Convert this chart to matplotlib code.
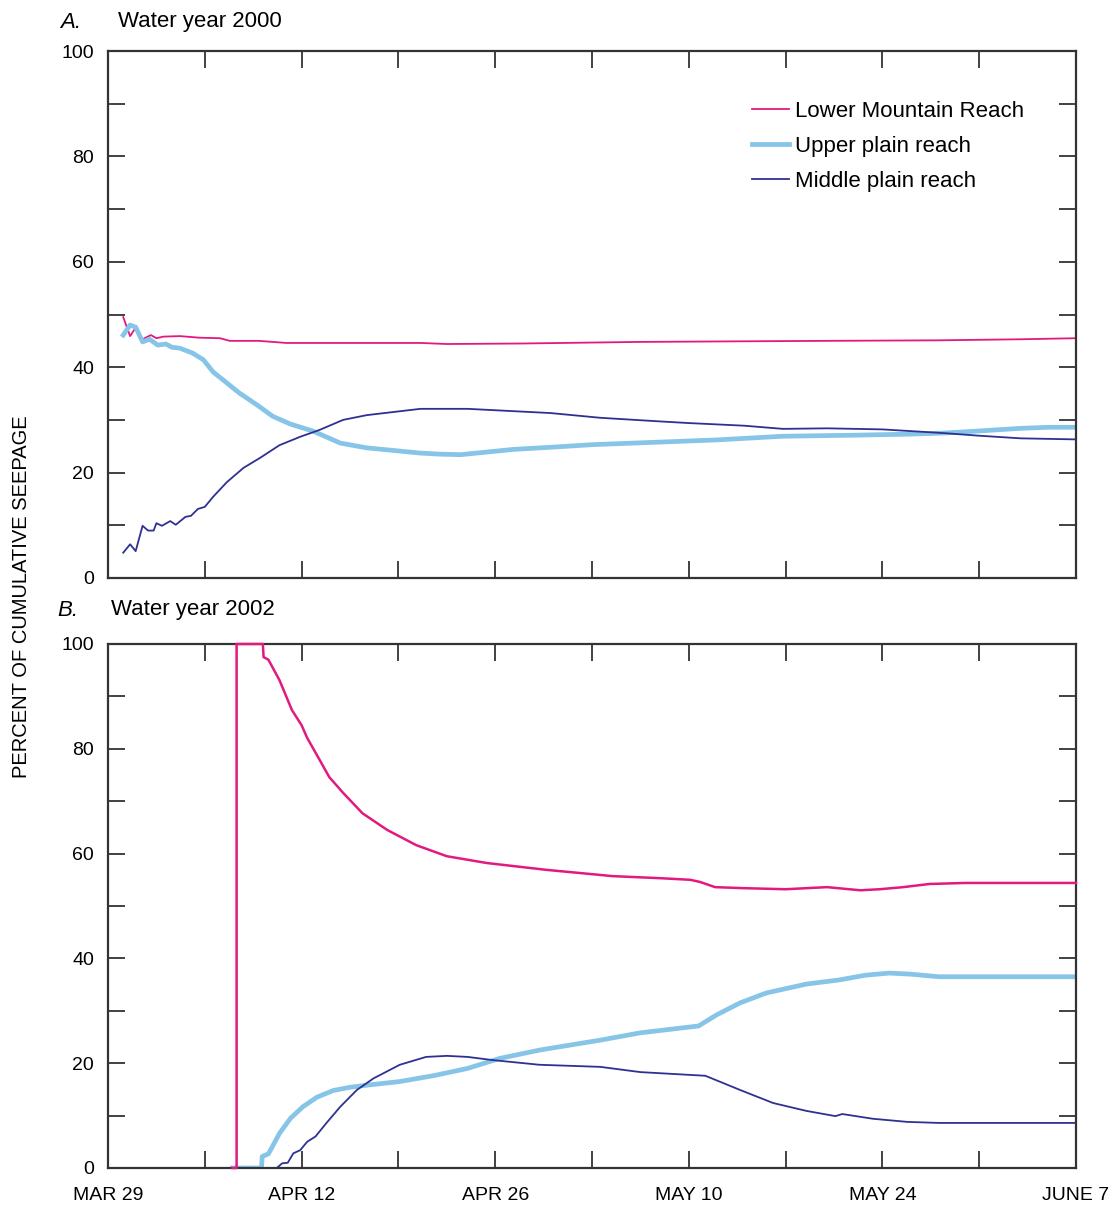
import numpy as np
import matplotlib.pyplot as plt

plt.rcParams['font.family'] = ['Liberation Sans', 'DejaVu Sans']

# days after March 29
tick_days = [0, 7, 14, 21, 28, 35, 42, 49, 56, 63, 70]
tick_labels = ['MAR 29', '', 'APR 12', '', 'APR 26', '', 'MAY 10', '', 'MAY 24', '', 'JUNE 7']
y_ticks = [0, 10, 20, 30, 40, 50, 60, 70, 80, 90, 100]
y_labels = ['0', '', '20', '', '40', '', '60', '', '80', '', '100']

# ---- Water year 2000 ----
lower_a_days = [1.1, 1.6, 2.0, 2.5, 3.1, 3.5, 4.0, 5.2, 6.6, 8.1, 8.8, 10.9, 12.9, 16.3, 22.6,
                24.5, 30, 38.5, 45, 52, 60, 66, 70]
lower_a = [49.5, 45.9, 47.5, 45.3, 46.1, 45.5, 45.8, 45.9, 45.6, 45.5, 45.0, 45.0, 44.6, 44.6, 44.6,
           44.4, 44.5, 44.8, 44.9, 45.0, 45.1, 45.3, 45.5]

upper_a_days = [1.1, 1.6, 2.0, 2.5, 3.0, 3.6, 4.2, 4.6, 5.2, 6.1, 6.9, 7.6, 8.6, 9.5, 10.8, 11.9,
                13.2, 14.8, 16.8, 18.7, 22.6, 24, 25.5, 29.3, 32.6, 35, 40, 44, 48.8, 54, 58,
                60.4, 63, 66, 68, 70]
upper_a = [46.1, 48.0, 47.6, 44.8, 45.3, 44.2, 44.4, 43.8, 43.6, 42.7, 41.4, 39.1, 37.0, 35.1, 32.8, 30.7,
           29.2, 27.9, 25.6, 24.7, 23.7, 23.5, 23.4, 24.4, 24.9, 25.3, 25.8, 26.2, 26.9, 27.1, 27.3,
           27.5, 27.9, 28.4, 28.6, 28.6]

middle_a_days = [1.1, 1.6, 2.0, 2.5, 2.9, 3.3, 3.5, 3.9, 4.5, 4.9, 5.6, 6.0, 6.5, 7.0, 7.6, 8.6, 9.8,
                 11.0, 12.4, 13.9, 15.3, 17.0, 18.7, 22.6, 26, 29, 32, 35.6, 40, 42, 46,
                 48.8, 52, 56, 60.4, 63, 66, 70]
middle_a = [4.8, 6.4, 5.1, 9.9, 9.0, 9.0, 10.4, 9.9, 10.8, 10.1, 11.6, 11.8, 13.1, 13.5, 15.4, 18.2, 20.9,
            22.8, 25.2, 26.8, 28.1, 30.0, 30.9, 32.1, 32.1, 31.7, 31.3, 30.4, 29.7, 29.4, 28.9,
            28.3, 28.4, 28.2, 27.5, 27.0, 26.5, 26.3]

# ---- Water year 2002 ----
lower_b_days = [9.0, 9.3, 9.3, 11.2, 11.25, 11.6, 12.4, 13.3, 14.0, 14.4, 15.3, 16.0, 17.0, 18.4, 20.2,
                22.3, 24.5, 27.4, 31.7, 36.5, 40, 42.1, 42.8, 43.9, 46, 49, 52, 54.4, 55.8, 57.5,
                59.4, 62, 70]
lower_b = [0, 0, 100, 100, 97.5, 97.0, 93.1, 87.4, 84.5, 82.1, 77.9, 74.6, 71.6, 67.7, 64.5,
           61.6, 59.5, 58.2, 56.9, 55.7, 55.3, 55.0, 54.6, 53.6, 53.4, 53.2, 53.6, 53.0, 53.2, 53.6,
           54.2, 54.4, 54.4]

upper_b_days = [9.0, 11.1, 11.15, 11.6, 12.4, 13.2, 14.1, 15.1, 16.3, 17.5, 18.7, 21.1, 23.5, 26, 28.3,
                31.2, 35.6, 38.5, 42.7, 44.0, 45.7, 47.6, 50.5, 52.9, 54.8, 56.5, 58, 60.1, 70]
upper_b = [0, 0, 2.2, 2.7, 6.6, 9.5, 11.7, 13.5, 14.8, 15.4, 15.8, 16.5, 17.6, 19.0, 20.9,
           22.5, 24.4, 25.8, 27.1, 29.2, 31.5, 33.4, 35.1, 35.9, 36.8, 37.2, 37.0, 36.5, 36.5]

middle_b_days = [9.0, 12.2, 12.6, 13.0, 13.4, 13.9, 14.4, 15.0, 15.8, 16.8, 18.0, 19.2, 21.1, 23.0, 24.5,
                 26, 27.8, 31.2, 35.6, 38.5, 43.2, 45.7, 48.1, 50.5, 52.6, 53.1, 55.3, 57.8, 60.1, 70]
middle_b = [0, 0, 0.9, 1.0, 2.8, 3.4, 5.0, 6.0, 8.6, 11.7, 14.9, 17.1, 19.7, 21.2, 21.4,
            21.2, 20.6, 19.7, 19.3, 18.3, 17.6, 14.9, 12.4, 10.9, 9.9, 10.3, 9.4, 8.8, 8.6, 8.6]

pink = '#E2197F'
light_blue = '#86C4E8'
navy = '#2E3192'
axis_col = '#333333'

fig = plt.figure(figsize=(11.14, 12.07), dpi=100)
W, H = 1114, 1207
ax_a = fig.add_axes([108 / W, 1 - 578 / H, 968 / W, 527 / H])
ax_b = fig.add_axes([108 / W, 1 - 1168 / H, 968 / W, 524 / H])

for ax in (ax_a, ax_b):
    ax.set_xlim(0, 70)
    ax.set_ylim(0, 100)
    ax.set_xticks(tick_days)
    ax.set_yticks(y_ticks)
    ax.set_yticklabels(y_labels)
    ax.tick_params(direction='in', length=12, width=1.3, color=axis_col,
                   top=True, right=True, labelsize=14)
    ax.tick_params(axis='y', pad=10)
    ax.tick_params(axis='x', pad=14)
    for s in ax.spines.values():
        s.set_color(axis_col)
        s.set_linewidth(1.6)

ax_a.set_xticklabels([''] * len(tick_days))
ax_b.set_xticklabels(tick_labels)

ax_a.plot(lower_a_days, lower_a, color=pink, lw=1.3, label='Lower Mountain Reach')
ax_a.plot(upper_a_days, upper_a, color=light_blue, lw=3.4, label='Upper plain reach')
ax_a.plot(middle_a_days, middle_a, color=navy, lw=1.3, label='Middle plain reach')

ax_b.plot(lower_b_days, lower_b, color=pink, lw=1.8, clip_on=False, zorder=3)
ax_b.plot(upper_b_days, upper_b, color=light_blue, lw=3.4)
ax_b.plot(middle_b_days, middle_b, color=navy, lw=1.3)

ax_a.legend(loc='upper left', bbox_to_anchor=(0.665, 0.905), frameon=False,
            fontsize=16, handlelength=1.7, handletextpad=0.25, labelspacing=0.62,
            borderpad=0, borderaxespad=0)

fig.text(60 / W, 1 - 22 / H, 'A.', fontsize=16, style='italic', va='center', ha='left')
fig.text(118 / W, 1 - 22 / H, 'Water year 2000', fontsize=16, va='center', ha='left')
fig.text(57 / W, 1 - 610 / H, 'B.', fontsize=16, style='italic', va='center', ha='left')
fig.text(111 / W, 1 - 610 / H, 'Water year 2002', fontsize=16, va='center', ha='left')
fig.text(22 / W, 1 - 597 / H, 'PERCENT OF CUMULATIVE SEEPAGE', fontsize=14.5,
         rotation=90, va='center', ha='center')

fig.savefig('out.png', dpi=100)
